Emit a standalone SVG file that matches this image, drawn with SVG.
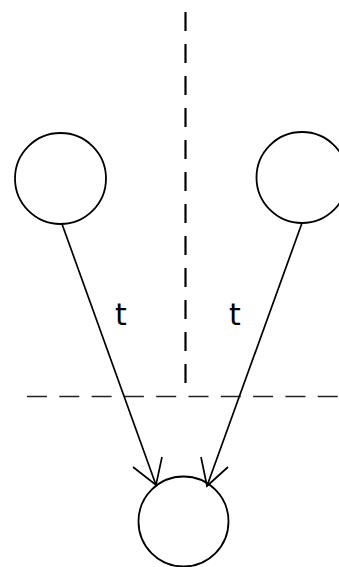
<svg xmlns="http://www.w3.org/2000/svg" width="339" height="567" viewBox="0 0 339 567">
<style>
.node{fill:none;stroke:#000;stroke-width:1.8}
.edge{fill:none;stroke:#000;stroke-width:1.7}
.vdash{fill:none;stroke:#000;stroke-width:2.2;stroke-dasharray:19 13}
.hdash{fill:none;stroke:#222;stroke-width:1.6;stroke-dasharray:20 12.3}
.lbl{font-family:"DejaVu Sans",sans-serif;font-size:30px;fill:#000;text-anchor:middle}
</style>
<g id="boundaries">
<line class="vdash" x1="185.5" y1="12" x2="185.5" y2="384"/>
<line class="hdash" x1="27" y1="396.5" x2="339" y2="396.5"/>
</g>
<g id="node-left"><circle class="node" cx="60.5" cy="178.5" r="45.5"/></g>
<g id="node-right"><circle class="node" cx="302" cy="177.5" r="45.5"/></g>
<g id="node-bottom"><circle class="node" cx="183.5" cy="521.5" r="45"/></g>
<g id="connectors">
<line class="edge" x1="62" y1="224" x2="156" y2="485"/>
<polyline class="edge" points="133,467 156,485 162,457"/>
<line class="edge" x1="302" y1="223" x2="207" y2="486"/>
<polyline class="edge" points="201,457 207,486 228,467"/>
</g>
<g id="labels">
<text class="lbl" x="121" y="325">t</text>
<text class="lbl" x="235" y="325">t</text>
</g>
</svg>
